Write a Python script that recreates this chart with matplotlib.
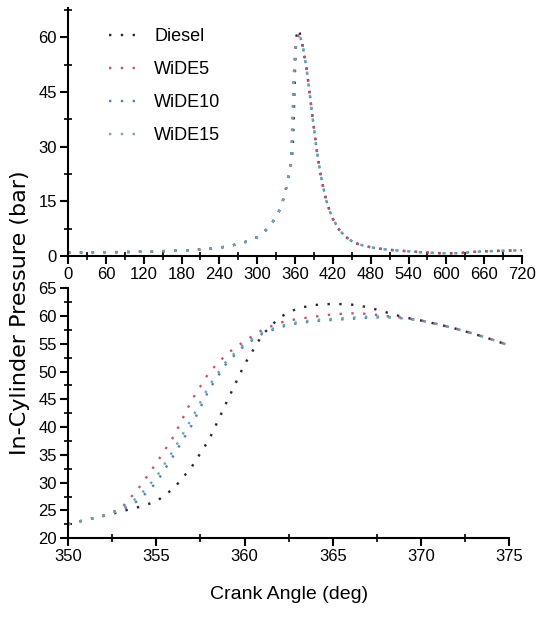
import numpy as np
import matplotlib
matplotlib.use("Agg")
import matplotlib.pyplot as plt
from matplotlib.ticker import MultipleLocator

plt.rcParams['font.family'] = ['Liberation Sans', 'DejaVu Sans']

# compression stroke, common to all fuels (deg, bar)
comp_angle = [0, 30, 60, 90, 120, 150, 180, 210, 240, 260, 280, 300, 310, 320,
              330, 335, 340, 345, 348]
comp_p = [1.0, 1.0, 1.05, 1.1, 1.2, 1.35, 1.5, 1.8, 2.3, 2.9, 3.8, 5.2, 6.5, 8.2,
          10.8, 12.5, 14.8, 18.0, 20.5]

# expansion / exhaust, common to all fuels
exp_angle = [376, 378, 380, 383, 386, 390, 394, 398, 402, 406, 410, 415, 420, 430,
             440, 450, 460, 470, 480, 495, 510, 525, 540, 560, 580, 600, 620, 640,
             660, 680, 700, 720]
exp_p = [53.7, 51.5, 49.0, 45.0, 40.5, 35.0, 29.5, 25.0, 21.0, 17.8, 15.0, 12.3,
         10.2, 7.2, 5.3, 4.1, 3.3, 2.8, 2.4, 2.0, 1.7, 1.5, 1.3, 1.05, 0.85, 0.75,
         0.8, 1.1, 1.3, 1.4, 1.5, 1.6]

# combustion window 350-375 deg
angle = list(range(350, 376))
diesel = [22.5, 23.3, 24.0, 24.8, 25.6, 26.6, 29.0, 32.8, 37.8, 44.6, 51.3, 56.6,
          59.8, 61.4, 62.0, 62.2, 62.1, 61.6, 60.7, 59.8, 59.2, 58.5, 57.7, 56.8,
          55.8, 54.7]
wide5 = [22.5, 23.3, 24.1, 25.3, 29.0, 33.5, 38.4, 44.8, 49.9, 53.2, 55.5, 57.5,
         58.8, 59.5, 59.9, 60.3, 60.5, 60.4, 60.0, 59.7, 59.2, 58.5, 57.7, 56.8,
         55.8, 54.7]
wide10 = [22.5, 23.3, 24.0, 25.0, 26.8, 30.0, 35.0, 40.3, 46.8, 51.6, 54.7, 56.8,
          58.0, 58.7, 59.1, 59.3, 59.5, 59.7, 59.8, 59.6, 59.2, 58.5, 57.7, 56.8,
          55.8, 54.7]
wide15 = [22.5, 23.3, 24.0, 25.1, 27.5, 31.0, 36.0, 41.5, 47.5, 52.0, 55.0, 57.0,
          58.2, 58.9, 59.3, 59.5, 59.7, 59.9, 59.9, 59.6, 59.2, 58.5, 57.7, 56.8,
          55.8, 54.7]

labels = ['Diesel', 'WiDE5', 'WiDE10', 'WiDE15']
colors = ['#262640', '#c2566e', '#4f80c4', '#6ea6aa']
series = [diesel, wide5, wide10, wide15]

dots = (0, (1, 4))

fig = plt.figure(figsize=(5.36, 6.2), dpi=100)
ax1 = fig.add_axes([0.127, 0.587, 0.847, 0.400])
ax2 = fig.add_axes([0.127, 0.132, 0.823, 0.403])

for lab, col, p in zip(labels, colors, series):
    full_a = comp_angle + angle + exp_angle
    full_p = comp_p + p + exp_p
    ax1.plot(full_a, full_p, linestyle=dots, color=col, lw=1.7, label=lab)
    ax2.plot(angle, p, linestyle=dots, color=col, lw=1.7)

ax1.set_xlim(0, 720)
ax1.set_ylim(0, 68)
ax1.xaxis.set_major_locator(MultipleLocator(60))
ax1.xaxis.set_minor_locator(MultipleLocator(30))
ax1.yaxis.set_major_locator(MultipleLocator(15))
ax1.yaxis.set_minor_locator(MultipleLocator(7.5))

ax2.set_xlim(350, 375)
ax2.set_ylim(20, 65)
ax2.xaxis.set_major_locator(MultipleLocator(5))
ax2.xaxis.set_minor_locator(MultipleLocator(2.5))
ax2.yaxis.set_major_locator(MultipleLocator(5))
ax2.yaxis.set_minor_locator(MultipleLocator(2.5))

for ax in (ax1, ax2):
    for s in ('top', 'right'):
        ax.spines[s].set_visible(False)
    for s in ('left', 'bottom'):
        ax.spines[s].set_linewidth(1.5)
    ax.tick_params(which='major', direction='out', length=6, width=1.5,
                   labelsize=12, pad=2)
    ax.tick_params(which='minor', direction='inout', length=6, width=1.2)

ax1.legend(loc='upper left', bbox_to_anchor=(0.07, 0.955), frameon=False,
           fontsize=13, handlelength=1.9, labelspacing=0.88, borderpad=0,
           handletextpad=0.6)

ax2.set_xlabel('Crank Angle (deg)', fontsize=14, labelpad=16)
fig.text(0.037, 0.495, 'In-Cylinder Pressure (bar)', rotation=90,
         ha='center', va='center', fontsize=16, family='DejaVu Sans')

fig.savefig('out.png', dpi=100)
